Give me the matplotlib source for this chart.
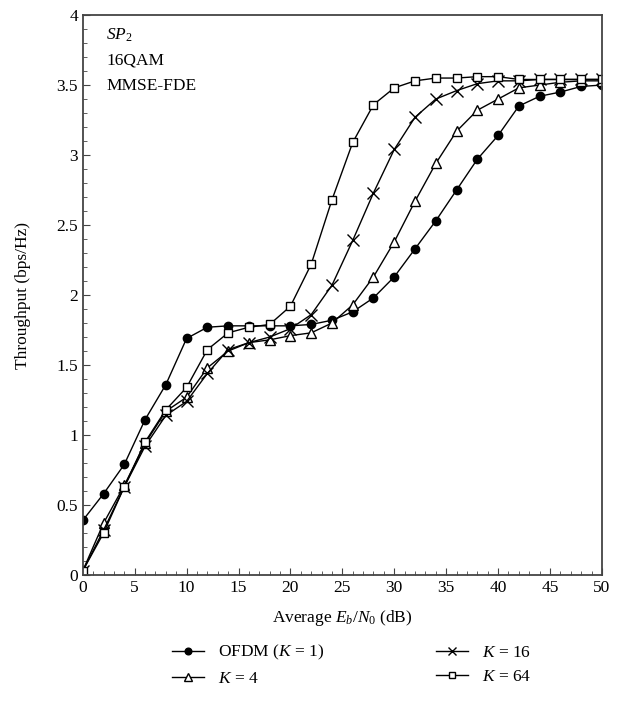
import matplotlib.pyplot as plt
from matplotlib.ticker import MultipleLocator

plt.rcParams['font.family'] = ['Liberation Serif', 'DejaVu Serif']
plt.rcParams['mathtext.fontset'] = 'custom'
plt.rcParams['mathtext.rm'] = 'Liberation Serif'
plt.rcParams['mathtext.it'] = 'Liberation Serif:italic'

# Eb/N0 (dB)
snr = list(range(0, 51, 2))

ofdm = [0.39, 0.58, 0.79, 1.11, 1.36, 1.69, 1.77, 1.78, 1.78, 1.78, 1.78, 1.79, 1.82,
        1.88, 1.98, 2.13, 2.33, 2.53, 2.75, 2.97, 3.14, 3.35, 3.42, 3.45, 3.49, 3.50]
k4 = [0.03, 0.37, 0.64, 0.94, 1.17, 1.27, 1.48, 1.60, 1.66, 1.68, 1.71, 1.73, 1.80,
      1.93, 2.13, 2.38, 2.67, 2.94, 3.17, 3.32, 3.40, 3.48, 3.50, 3.52, 3.53, 3.53]
k16 = [0.03, 0.32, 0.63, 0.92, 1.14, 1.24, 1.44, 1.61, 1.66, 1.70, 1.76, 1.86, 2.07,
       2.39, 2.73, 3.04, 3.27, 3.40, 3.46, 3.51, 3.53, 3.53, 3.54, 3.54, 3.54, 3.54]
k64 = [0.03, 0.30, 0.63, 0.95, 1.18, 1.34, 1.61, 1.73, 1.77, 1.79, 1.92, 2.22, 2.68,
       3.09, 3.36, 3.48, 3.53, 3.55, 3.55, 3.56, 3.56, 3.54, 3.54, 3.54, 3.54, 3.54]

fig = plt.figure(figsize=(6.27, 7.17), dpi=100)
ax = fig.add_axes([0.132, 0.198, 0.828, 0.781])

ax.plot(snr, ofdm, '-o', color='black', lw=1, ms=6, label=r'OFDM ($K$ = 1)')
ax.plot(snr, k4, '-^', color='black', lw=1, ms=7, mfc='white', mew=1, label=r'$K$ = 4')
ax.plot(snr, k16, '-x', color='black', lw=1, ms=8, mew=1, label=r'$K$ = 16')
ax.plot(snr, k64, '-s', color='black', lw=1, ms=6, mfc='white', mew=1, label=r'$K$ = 64')

ax.set_xlim(0, 50)
ax.set_ylim(0, 4)
ax.xaxis.set_major_locator(MultipleLocator(5))
ax.xaxis.set_minor_locator(MultipleLocator(1))
ax.yaxis.set_major_locator(MultipleLocator(0.5))
ax.yaxis.set_minor_locator(MultipleLocator(0.1))
ax.yaxis.set_major_formatter(plt.FuncFormatter(lambda v, p: f'{v:g}'))
ax.tick_params(which='both', direction='in', top=False, right=False, labelsize=12.5, color='#444444')
ax.tick_params(which='major', length=5)
ax.tick_params(which='minor', length=3)
for s in ax.spines.values():
    s.set_color('#444444')
    s.set_linewidth(1.3)

ax.set_xlabel(r'Average $E_b/N_0$ (dB)', fontsize=12.5, labelpad=9)
ax.set_ylabel('Throughput (bps/Hz)', fontsize=12.5, labelpad=18)

ax.text(0.045, 0.963, r'$SP_2$', transform=ax.transAxes, fontsize=12.5, va='center')
ax.text(0.045, 0.918, '16QAM', transform=ax.transAxes, fontsize=12.5, va='center')
ax.text(0.045, 0.873, 'MMSE-FDE', transform=ax.transAxes, fontsize=12.5, va='center')

fig.legend(loc='lower left', bbox_to_anchor=(0.25, 0.02), ncol=2, frameon=False,
           fontsize=12.5, handlelength=1.8, columnspacing=6.5, labelspacing=0.5,
           handletextpad=0.8, markerscale=0.8)

fig.savefig('out.png', dpi=100)
